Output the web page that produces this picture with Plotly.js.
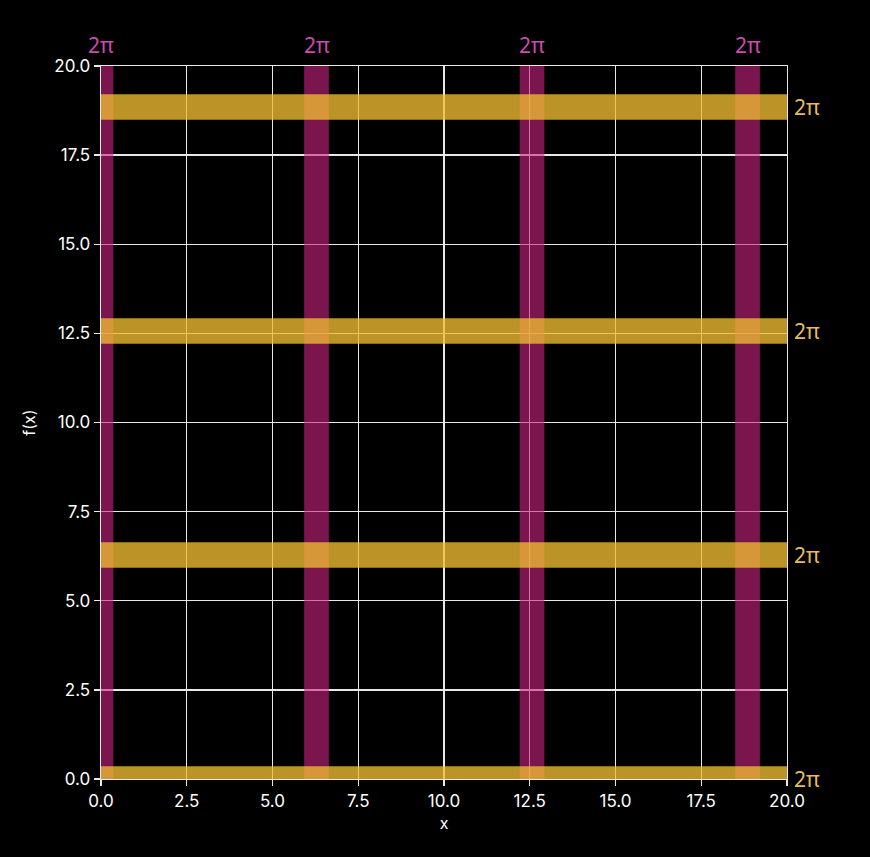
<!DOCTYPE html>
<html>
<head>
<meta charset="utf-8">
<script src="https://cdn.plot.ly/plotly-3.0.1.min.js"></script>
<style>html,body{margin:0;padding:0;background:#000;}#chart{width:870px;height:857px;}</style>
</head>
<body>
<div id="chart"></div>
<script>
// Band centres (multiples of 2π)
const vBandCenters = [0, 6.2832, 12.5664, 18.8496];
const hBandCenters = [0, 6.2832, 12.5664, 18.8496];
const bandHalfWidth = 0.36;
const bandLabel = "2π";
const xTicks = [0, 2.5, 5, 7.5, 10, 12.5, 15, 17.5, 20];
const yTicks = [0, 2.5, 5, 7.5, 10, 12.5, 15, 17.5, 20];

const shapes = [];
const annotations = [];
hBandCenters.forEach(c => {
  shapes.push({type:'rect', xref:'x', yref:'y', x0:0, x1:20, y0:c-bandHalfWidth, y1:c+bandHalfWidth,
    fillcolor:'rgba(240,188,50,0.78)', line:{width:0}, layer:'between'});
});
vBandCenters.forEach(c => {
  shapes.unshift({type:'rect', xref:'x', yref:'y', x0:c-bandHalfWidth, x1:c+bandHalfWidth, y0:0, y1:20,
    fillcolor:'rgba(205,35,130,0.6)', line:{width:0}, layer:'between'});
  annotations.push({xref:'x', yref:'paper', x:c, y:1.03, yanchor:'middle', text:bandLabel, showarrow:false,
    font:{color:'#cc4cae', size:21, family:'Noto Sans'}});
});
hBandCenters.forEach(c => {
  annotations.push({xref:'paper', yref:'y', x:1, xanchor:'left', xshift:5, y:c, yanchor:'middle', text:bandLabel, showarrow:false,
    font:{color:'#e8be5e', size:21, family:'Noto Sans'}});
});

const axisCommon = {
  range:[0,20], tickformat:'.1f', showgrid:true, gridcolor:'#e8e8e8', gridwidth:1.4,
  showline:true, linecolor:'#e8e8e8', linewidth:1.4, mirror:true, ticks:'outside', ticklen:6, tickwidth:1.4,
  tickcolor:'#e8e8e8', zeroline:false, tickfont:{color:'#ffffff', size:17, family:'Inter'}
};

const layout = {
  width:870, height:857,
  paper_bgcolor:'#000', plot_bgcolor:'#000',
  margin:{l:101, r:83, t:66, b:78},
  showlegend:false,
  xaxis:Object.assign({}, axisCommon, {tickvals:xTicks, title:{text:'x', font:{color:'#fff', size:16, family:'Inter'}, standoff:8}}),
  yaxis:Object.assign({}, axisCommon, {tickvals:yTicks, title:{text:'f(x)', font:{color:'#fff', size:16, family:'Inter'}, standoff:14}}),
  shapes:shapes, annotations:annotations
};

Plotly.newPlot('chart', [{x:[], y:[], type:'scatter', mode:'lines'}], layout, {displayModeBar:false, staticPlot:true});
</script>
</body>
</html>
